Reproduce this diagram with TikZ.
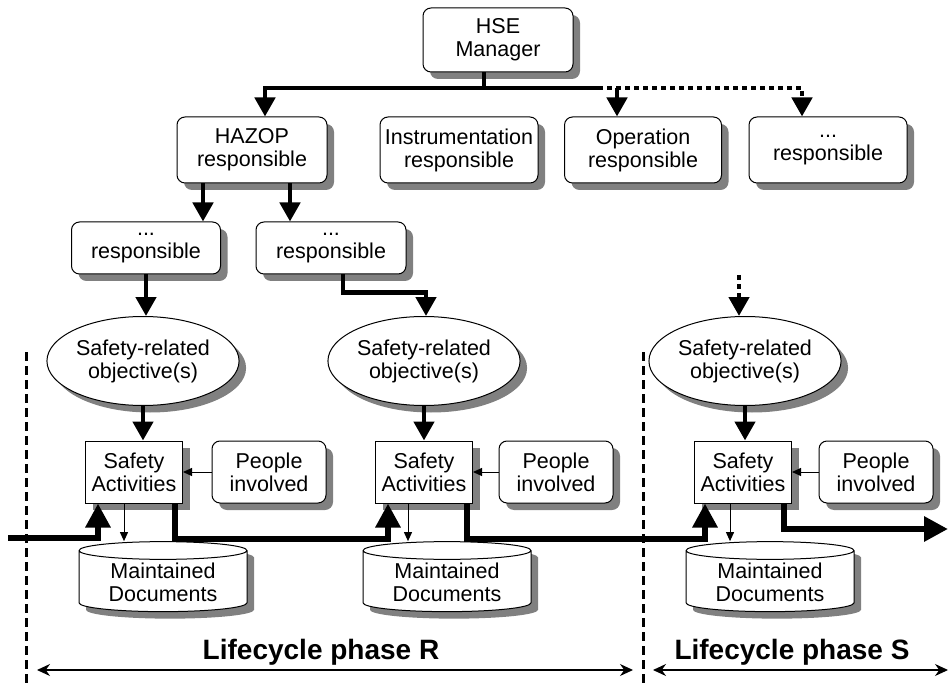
\documentclass[tikz,border=0pt]{standalone}
\usepackage{fontspec}
\setmainfont{Liberation Sans}
\usetikzlibrary{arrows.meta,shapes.geometric,shadows}

\tikzset{
  shadowed/.style={drop shadow={shadow xshift=7pt,shadow yshift=-7pt,fill=black!50,opacity=1}},
  txt/.style={font=\fontsize{21.5}{23}\selectfont,align=center,inner sep=1pt},
  role/.style={txt,draw,line width=1pt,fill=white,rounded corners=8pt,shadowed,minimum height=66pt},
  objective/.style={txt,ellipse,draw,line width=1pt,fill=white,shadowed,minimum width=167pt,minimum height=89pt},
  activity/.style={txt,draw,line width=1pt,fill=white,shadowed,minimum width=97pt,minimum height=62pt},
  people/.style={role,minimum width=114pt,minimum height=62pt},
  docs/.style={txt,cylinder,shape border rotate=90,aspect=0.16,draw,line width=1pt,fill=white,shadowed,minimum width=168pt,minimum height=70pt},
  link/.style={line width=4.5pt,-{Triangle[width=20pt,length=19pt]}},
  flow/.style={line width=6pt,-{Triangle[width=24pt,length=24pt]}},
  feed/.style={line width=1pt,-{Triangle[width=8pt,length=9pt]}},
  maybe/.style={dash pattern=on 5pt off 4pt},
  divider/.style={line width=3pt,dash pattern=on 9pt off 5pt},
  span/.style={line width=1.2pt,{Stealth[width=12pt,length=13pt]}-{Stealth[width=12pt,length=13pt]}},
  phase/.style={font=\bfseries\fontsize{28}{30}\selectfont}
}

\begin{document}
\begin{tikzpicture}[x=1pt,y=-1pt]
  \useasboundingbox (0,0) rectangle (949,684);

  % organisation
  \node[role,minimum width=150pt,minimum height=64pt] (hse) at (498,40) {HSE\\Manager};
  \node[role,minimum width=150pt] (hazop) at (252,150) {HAZOP\\responsible};
  \node[role,minimum width=158pt] (instr) at (459,150) {Instrumentation\\responsible};
  \node[role,minimum width=157pt] (oper) at (643,150) {Operation\\responsible};
  \node[role,minimum width=158pt] (other) at (828,150) {...\\responsible};
  \node[role,minimum width=149pt,minimum height=52pt] (subA) at (146,248) {...\\responsible};
  \node[role,minimum width=150pt,minimum height=52pt] (subB) at (331,248) {...\\responsible};

  \coordinate (bus) at (484,88);
  \coordinate (busend) at (598,88);
  \coordinate (tapOp) at (617,88);
  \draw[line width=4.5pt] ([xshift=-14pt]hse.south) -- (bus) -- (busend);
  \draw[link] (bus) -| ([xshift=13pt]hazop.north);
  \draw[link,maybe] (busend) -| ([xshift=-26pt]other.north);
  \draw[link] (tapOp) -- ([xshift=-26pt]oper.north);
  \draw[link] ([xshift=-49pt]hazop.south) -- ([xshift=57pt]subA.north);
  \draw[link] ([xshift=38pt]hazop.south) -- ([xshift=-41pt]subB.north);

  % lifecycle phases
  \node[objective] (objR1) at (143,361) {Safety-related\\objective(s)};
  \node[objective] (objR2) at (424,361) {Safety-related\\objective(s)};
  \node[objective] (objS) at (745,361) {Safety-related\\objective(s)};
  \node[activity] (saR1) at (134,472) {Safety\\Activities};
  \node[activity] (saR2) at (424,472) {Safety\\Activities};
  \node[activity] (saS) at (743,472) {Safety\\Activities};
  \node[people] (pplR1) at (269,472) {People\\involved};
  \node[people] (pplR2) at (556,472) {People\\involved};
  \node[people] (pplS) at (876,472) {People\\involved};
  \node[docs] (docR1) at (163,582) {Maintained\\Documents};
  \node[docs] (docR2) at (447,582) {Maintained\\Documents};
  \node[docs] (docS) at (770,582) {Maintained\\Documents};

  \coordinate (srcS) at (739,275);
  \draw[link] (subA.south) -- (subA.south |- objR1.north);
  \draw[link] ([xshift=12pt]subB.south) -- ++(0,18) -| ([xshift=2pt]objR2.north);
  \draw[link,maybe] (srcS) -- (objS.north -| srcS);
  \draw[link] (objR1.south) -- (objR1.south |- saR1.north);
  \draw[link] (objR2.south) -- (objR2.south |- saR2.north);
  \draw[link] (objS.south) -- (objS.south |- saS.north);

  \draw[feed] (pplR1.west) -- (saR1.east);
  \draw[feed] (pplR2.west) -- (saR2.east);
  \draw[feed] (pplS.west) -- (saS.east);
  \draw[feed] ([xshift=-10pt]saR1.south) -- ([xshift=-39pt]docR1.north);
  \draw[feed] ([xshift=-16pt]saR2.south) -- ([xshift=-39pt]docR2.north);
  \draw[feed] ([xshift=-13pt]saS.south) -- ([xshift=-40pt]docS.north);

  \coordinate (start) at (8,538);
  \coordinate (finish) at (948,529);
  \draw[flow] (start) -| ([xshift=-36pt]saR1.south);
  \draw[flow] ([xshift=41pt]saR1.south) -- ++(0,35) -| ([xshift=-36pt]saR2.south);
  \draw[flow] ([xshift=43pt]saR2.south) -- ++(0,35) -| ([xshift=-38pt]saS.south);
  \draw[flow] ([xshift=41pt]saS.south) |- (finish);

  \draw[divider] (26,352) -- (26,684);
  \draw[divider] (643,352) -- (643,684);

  \node[phase] (phR) at (321,652) {Lifecycle phase R};
  \node[phase] (phS) at (792,652) {Lifecycle phase S};
  \coordinate (rL) at (37,670); \coordinate (rR) at (633,670);
  \coordinate (sL) at (653,670); \coordinate (sR) at (948,670);
  \draw[span] (rL) -- (rR);
  \draw[span] (sL) -- (sR);
\end{tikzpicture}
\end{document}
